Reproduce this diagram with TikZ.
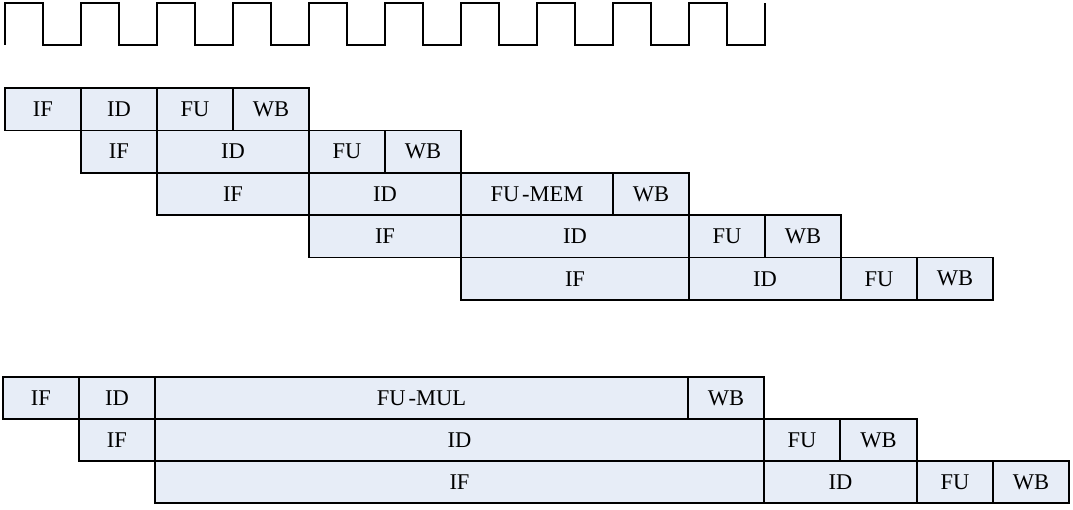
\documentclass[tikz,border=0pt]{standalone}
\usepackage{fontspec}
\setmainfont{Liberation Serif}
\definecolor{cellfill}{RGB}{231,237,247}
\tikzset{
  cell/.style={draw=black, line width=1.7pt, fill=cellfill, rectangle, inner sep=0pt, outer sep=0pt,
    anchor=north west, font=\fontsize{22.5}{26}\selectfont},
  clk/.style={draw=black, line width=1.7pt}
}
\newcommand\stage[6]{%
  \node[cell, minimum width={(#3-#2)*1pt}, minimum height={#5*1pt}] (#1) at (#2,#4) {#6};}
\begin{document}
\begin{tikzpicture}[x=1pt,y=-1pt]
\useasboundingbox (0,0) rectangle (1073,510);
% clock
\coordinate (c0) at (5,45);
\draw[clk] (c0) \foreach \k in {0,...,9} { -- ++(0,-42) -- ++(38,0) -- ++(0,42) -- ++(38,0) } -- ++(0,-42);
% top group
\def\h{42.4}
\stage{a1}{5}{81}{88}{\h}{IF}
\stage{a2}{81}{157}{88}{\h}{ID}
\stage{a3}{157}{233}{88}{\h}{FU}
\stage{a4}{233}{309}{88}{\h}{WB}
\stage{b1}{81}{157}{130.4}{\h}{IF}
\stage{b2}{157}{309}{130.4}{\h}{ID}
\stage{b3}{309}{385}{130.4}{\h}{FU}
\stage{b4}{385}{461}{130.4}{\h}{WB}
\stage{c1}{157}{309}{172.8}{\h}{IF}
\stage{c2}{309}{461}{172.8}{\h}{ID}
\stage{c3}{461}{613}{172.8}{\h}{FU\kern3pt-MEM}
\stage{c4}{613}{689}{172.8}{\h}{WB}
\stage{d1}{309}{461}{215.2}{\h}{IF}
\stage{d2}{461}{689}{215.2}{\h}{ID}
\stage{d3}{689}{765}{215.2}{\h}{FU}
\stage{d4}{765}{841}{215.2}{\h}{WB}
\stage{e1}{461}{689}{257.6}{\h}{IF}
\stage{e2}{689}{841}{257.6}{\h}{ID}
\stage{e3}{841}{917}{257.6}{\h}{FU}
\stage{e4}{917}{993}{257.6}{\h}{WB}
% bottom group
\def\g{42}
\stage{f1}{3}{79}{377}{\g}{IF}
\stage{f2}{79}{155}{377}{\g}{ID}
\stage{f3}{155}{688}{377}{\g}{FU\kern3pt-MUL}
\stage{f4}{688}{764}{377}{\g}{WB}
\stage{g1}{79}{155}{419}{\g}{IF}
\stage{g2}{155}{764}{419}{\g}{ID}
\stage{g3}{764}{840}{419}{\g}{FU}
\stage{g4}{840}{917}{419}{\g}{WB}
\stage{h1}{155}{764}{461}{\g}{IF}
\stage{h2}{764}{917}{461}{\g}{ID}
\stage{h3}{917}{993}{461}{\g}{FU}
\stage{h4}{993}{1069}{461}{\g}{WB}
\end{tikzpicture}
\end{document}
